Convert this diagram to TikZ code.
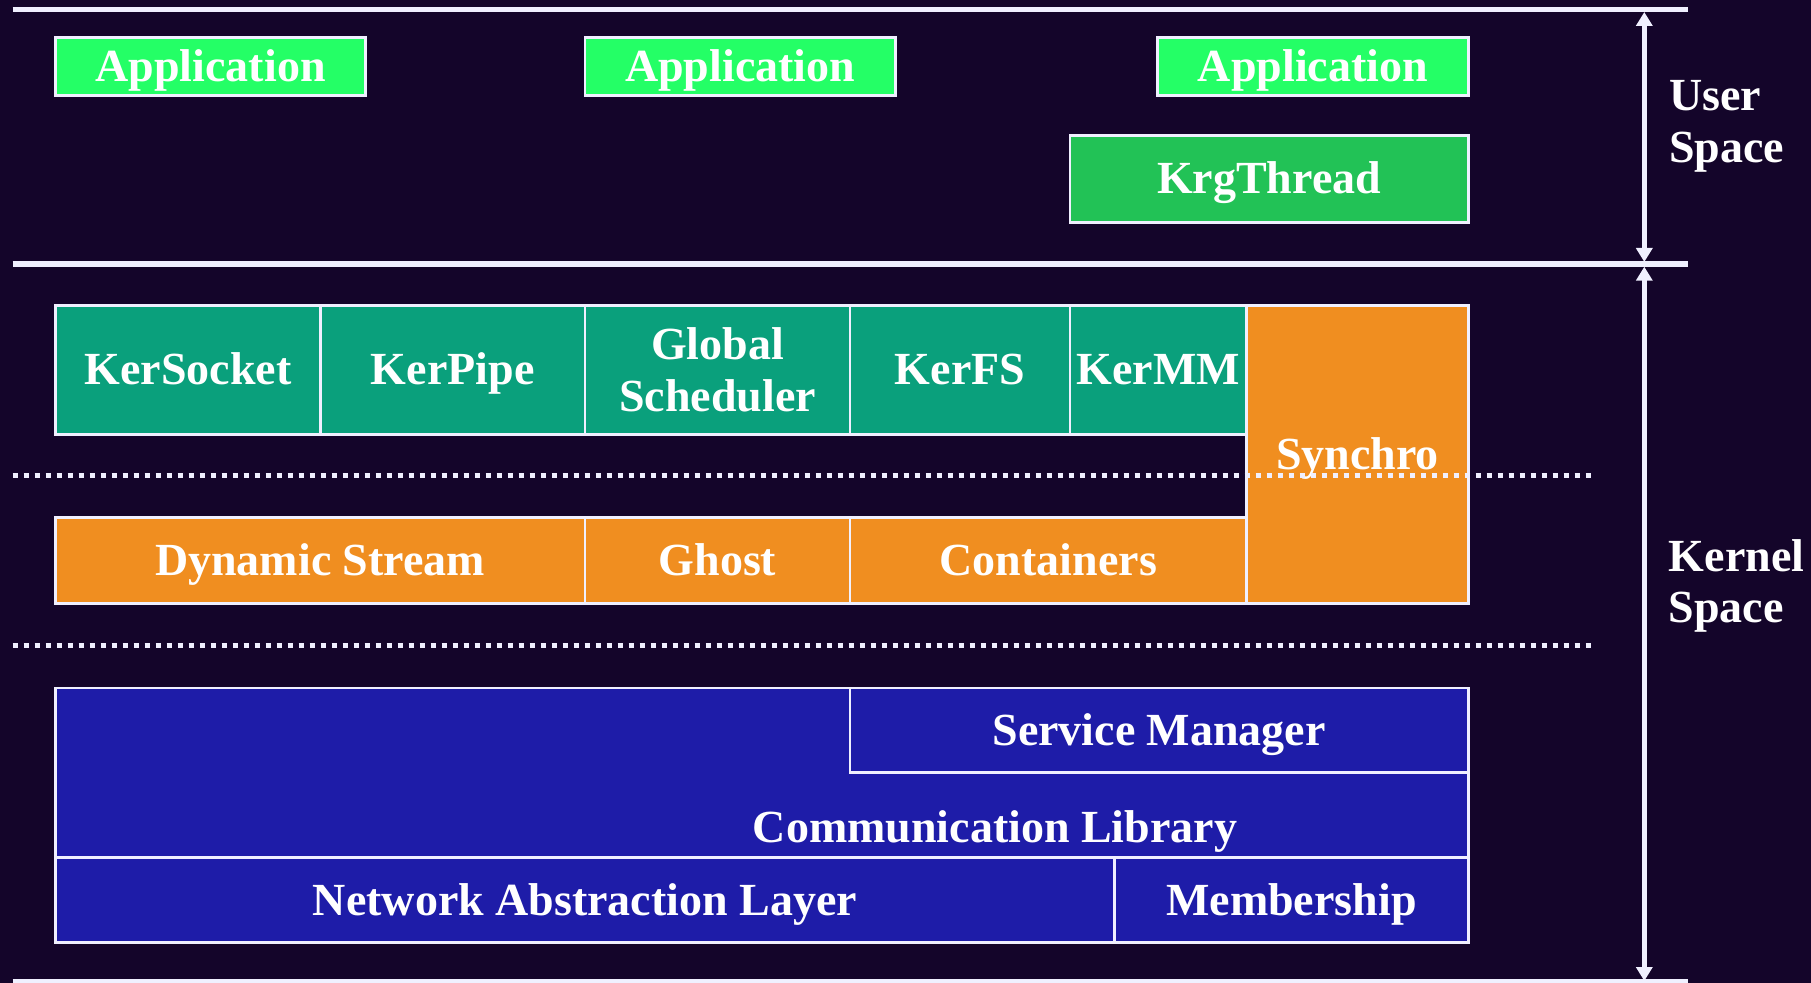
\documentclass[tikz,border=0pt]{standalone}
\usepackage{fontspec}
\setmainfont{Liberation Serif}
\usetikzlibrary{arrows.meta}
\definecolor{cBack}{RGB}{20, 5, 42}
\definecolor{cApp}{RGB}{36, 255, 102}
\definecolor{cThread}{RGB}{34, 194, 86}
\definecolor{cKernel}{RGB}{10, 160, 124}
\definecolor{cStream}{RGB}{240, 142, 32}
\definecolor{cComm}{RGB}{30, 28, 168}
\colorlet{cLine}{white!94!blue}
\tikzset{
    nodeBox/.style={
        draw=cLine,
        line width=1.4pt,
        inner sep=0pt,
        outer sep=0pt,
        text=white,
        font=\bfseries\fontsize{23}{25.75}\selectfont,
        text height=16pt,
        text depth=1pt,
        align=center
    },
    boxApp/.style={
        fill=cApp
    },
    boxThread/.style={
        fill=cThread
    },
    boxKernel/.style={
        fill=cKernel
    },
    boxStream/.style={
        fill=cStream
    },
    boxComm/.style={
        fill=cComm
    },
    labelComm/.style={
        text=white,
        inner sep=0pt,
        font=\bfseries\fontsize{23}{25.75}\selectfont,
        text height=16pt,
        text depth=1pt
    },
    labelSpace/.style={
        text=white,
        inner sep=0pt,
        align=left,
        font=\bfseries\fontsize{23}{25.75}\selectfont
    },
    sepLine/.style={
        cLine,
        line width=2.6pt
    },
    dotLine/.style={
        cLine,
        line width=2.5pt,
        dash pattern=on 2.4pt off 3.1pt
    },
    edgeSpace/.style={
        arrows={Triangle[length=7pt,width=8pt]-Triangle[length=7pt,width=8pt]},
        cLine,
        line width=2.4pt
    },
}
% box from (x1,y1) to (x2,y2), y going down
\newcommand{\layerBox}[7]{%
    \node[nodeBox,#1,minimum width={(#5-#3)*0.5pt},minimum height={(#6-#4)*0.5pt}] (#2) at ({(#3+#5)/2},{(#4+#6)/2}) {#7};
}

\begin{document}
\begin{tikzpicture}[x=0.5pt,y=-0.5pt]
    \useasboundingbox (0,0) rectangle (1811,983);

	\pgfdeclarelayer{background}
	\pgfdeclarelayer{foreground}
	\pgfsetlayers{background,main,foreground}

	\begin{pgfonlayer}{background}
        \fill[cBack] (0,0) rectangle (1811,983);
	\end{pgfonlayer}

	\begin{pgfonlayer}{main}
        % user space
        \foreach \n/\xa in {1/55.4, 2/585, 3/1157.7}
        {
            \layerBox{boxApp}{app\n}{\xa}{37.3}{\xa+310.4}{95.3}{Application}
        }
        \layerBox{boxThread}{krgThread}{1070}{135.7}{1468.2}{222.3}{KrgThread}

        % kernel modules
        \layerBox{boxKernel}{kerSocket}{55.4}{305.7}{320.3}{434.3}{KerSocket}
        \layerBox{boxKernel}{kerPipe}{320.3}{305.7}{585}{434.3}{KerPipe}
        \layerBox{boxKernel,text height={},text depth={}}{globSched}{585}{305.7}{850}{434.3}{Global\\Scheduler}
        \layerBox{boxKernel}{kerFS}{850}{305.7}{1070}{434.3}{KerFS}
        \layerBox{boxKernel}{kerMM}{1070}{305.7}{1246.6}{434.3}{KerMM}
        \layerBox{boxStream}{synchro}{1246.6}{305.7}{1468.2}{603.6}{Synchro}

        \layerBox{boxStream}{dynStream}{55.4}{517.7}{585}{603.6}{Dynamic Stream}
        \layerBox{boxStream}{ghost}{585}{517.7}{850}{603.6}{Ghost}
        \layerBox{boxStream}{containers}{850}{517.7}{1246.6}{603.6}{Containers}

        % communication layers
        \layerBox{boxComm}{commLib}{55.4}{688}{1468.2}{857.7}{}
        \layerBox{boxComm}{servMgr}{850}{688}{1468.2}{772.7}{Service Manager}
        \layerBox{boxComm}{netAbs}{55.4}{857.7}{1114.5}{942.7}{Network Abstraction Layer}
        \layerBox{boxComm}{membership}{1114.5}{857.7}{1468.2}{942.7}{Membership}
        \node[labelComm,anchor=base] (commLibText) at (995,842.5) {Communication Library};

        \node[labelSpace,anchor=north west] (userSpace) at (1669,80) {User\\Space};
        \node[labelSpace,anchor=north west] (kernelSpace) at (1668.4,539) {Kernel\\Space};
	\end{pgfonlayer}

	\begin{pgfonlayer}{foreground}
        \draw[sepLine] (12.7,9.7) -- (1688,9.7);
        \draw[sepLine] (12.7,264) -- (1688,264);
        \draw[sepLine] (12.7,982) -- (1688,982);

        \draw[dotLine] (12.7,476) -- (1594.6,476);
        \draw[dotLine] (12.7,645.3) -- (1594.6,645.3);

        \coordinate (userTop) at (1644.3,12);
        \coordinate (userBot) at (1644.3,262);
        \coordinate (kernelTop) at (1644.3,266.7);
        \coordinate (kernelBot) at (1644.3,981);
        \draw[edgeSpace] (userTop) -- (userBot);
        \draw[edgeSpace] (kernelTop) -- (kernelBot);
	\end{pgfonlayer}
\end{tikzpicture}
\end{document}
